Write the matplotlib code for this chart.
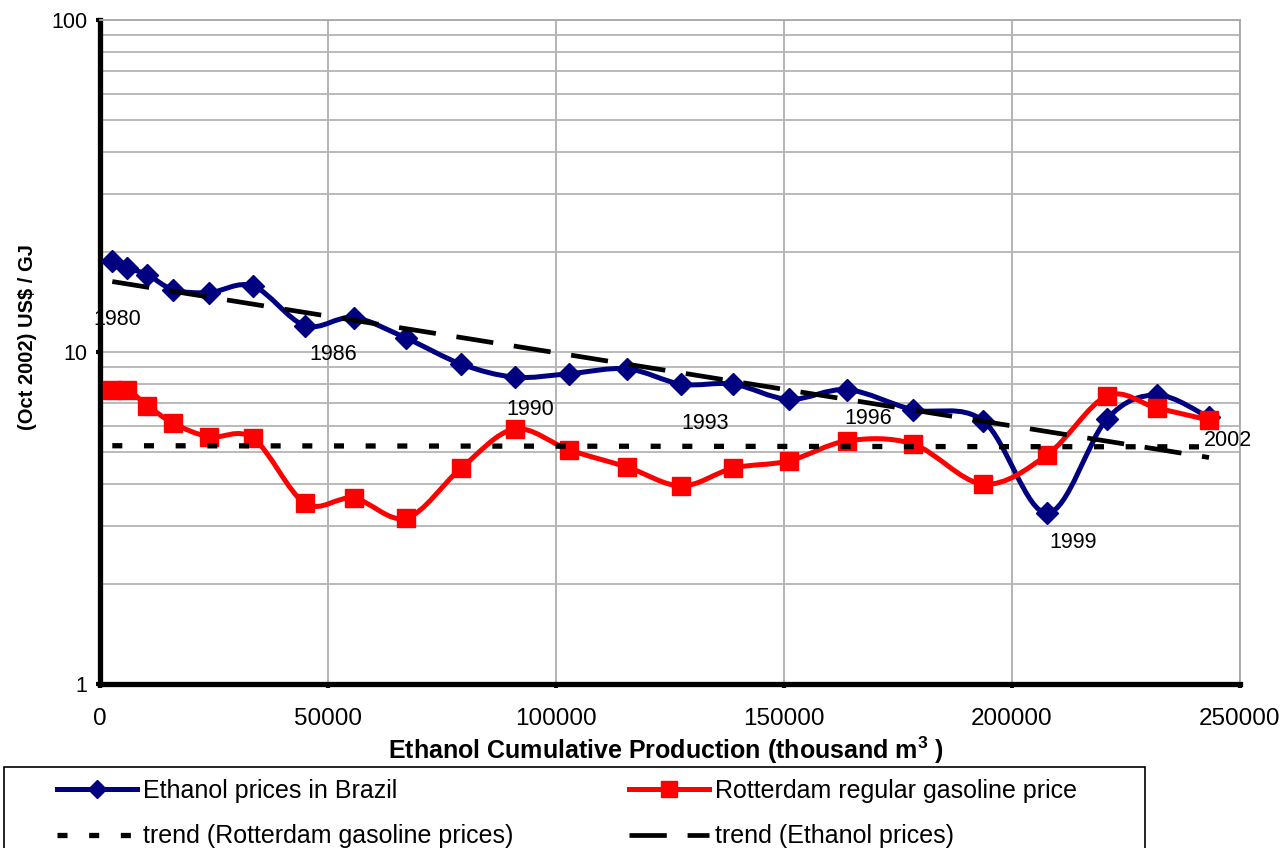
import numpy as np
import matplotlib.pyplot as plt
from matplotlib.path import Path
from matplotlib.patches import PathPatch, Rectangle
from matplotlib.lines import Line2D
from matplotlib.ticker import FixedLocator, NullFormatter

plt.rcParams['font.family'] = ['Liberation Sans', 'DejaVu Sans']
plt.rcParams['mathtext.default'] = 'regular'

# data (one point per year, 1980-2002)
cum_prod = [2700, 6000, 10400, 16100, 24000, 33600, 45000, 55600, 67200, 79200,
            90900, 102900, 115600, 127500, 138900, 151100, 163900, 178300,
            193700, 207700, 220800, 231800, 243200]
ethanol = [18.8, 17.9, 17.1, 15.4, 15.1, 15.8, 12.0, 12.7, 11.0, 9.2, 8.4, 8.6,
           8.9, 8.0, 8.0, 7.2, 7.7, 6.7, 6.2, 3.27, 6.28, 7.42, 6.35]
gasoline = [7.7, 7.7, 6.9, 6.1, 5.55, 5.5, 3.5, 3.63, 3.16, 4.47, 5.86, 5.07,
            4.5, 3.95, 4.47, 4.7, 5.4, 5.28, 4.0, 4.9, 7.37, 6.78, 6.24]

trend_x = [2700, 243200]
ethanol_trend = [16.3, 4.81]
gasoline_trend = [5.22, 5.18]

label_text = ['1980', '1986', '1990', '1993', '1996', '1999', '2002']
label_x = [3800, 51200, 94300, 132700, 168400, 213400, 247400]
label_y = [12.5, 9.8, 6.69, 6.07, 6.29, 2.66, 5.43]

xticks = [0, 50000, 100000, 150000, 200000, 250000]
yticks = [1, 10, 100]

NAVY = '#000080'
RED = '#FF0000'


def smooth_path(x, y):
    # excel-like smoothed line: bezier segments in (x, log y) space
    pts = np.column_stack([np.asarray(x, float), np.log10(y)])
    n = len(pts)
    verts = [pts[0]]
    codes = [Path.MOVETO]
    for i in range(n - 1):
        p0 = pts[max(i - 1, 0)]
        p1 = pts[i]
        p2 = pts[i + 1]
        p3 = pts[min(i + 2, n - 1)]
        verts += [p1 + (p2 - p0) / 6, p2 - (p3 - p1) / 6, p2]
        codes += [Path.CURVE4] * 3
    verts = np.array(verts)
    verts[:, 1] = 10 ** verts[:, 1]
    return Path(verts, codes)


fig = plt.figure(figsize=(12.83, 8.48), dpi=100)
ax = fig.add_axes([100 / 1283, 1 - 684 / 848, 1140 / 1283, 664 / 848])
ax.set_yscale('log')
ax.set_xlim(0, 250000)
ax.set_ylim(1, 100)

# grid
ax.set_xticks(xticks)
ax.set_xticklabels([str(t) for t in xticks])
ax.yaxis.set_major_locator(FixedLocator(yticks))
ax.set_yticklabels([str(t) for t in yticks])
minor = [m * d for d in (1, 10) for m in range(2, 10)]
ax.yaxis.set_minor_locator(FixedLocator(minor))
ax.yaxis.set_minor_formatter(NullFormatter())
ax.grid(True, which='both', axis='y', color='#b4b4b4', lw=1.3)
ax.grid(True, which='major', axis='x', color='#a8a8a8', lw=1.2)
ax.set_axisbelow(True)

for s in ('top', 'right'):
    ax.spines[s].set_color('#a8a8a8')
    ax.spines[s].set_linewidth(1.3)
for s in ('left', 'bottom'):
    ax.spines[s].set_color('black')
    ax.spines[s].set_linewidth(3.8)

ax.tick_params(which='major', length=3, width=3, color='black')
ax.tick_params(axis='x', labelsize=17.5, pad=14)
ax.tick_params(axis='y', labelsize=15.5, pad=6)
ax.tick_params(which='minor', length=0)

# smoothed series
ax.add_patch(PathPatch(smooth_path(cum_prod, ethanol), fill=False,
                       edgecolor=NAVY, lw=3.6, zorder=3, capstyle='round'))
ax.plot(cum_prod, ethanol, ls='none', marker='D', ms=11.5, color=NAVY,
        mec=NAVY, zorder=3.5)
ax.add_patch(PathPatch(smooth_path(cum_prod, gasoline), fill=False,
                       edgecolor=RED, lw=3.6, zorder=4, capstyle='round'))
ax.plot(cum_prod, gasoline, ls='none', marker='s', ms=13, color=RED,
        mec=RED, zorder=4.5)

# trend lines
ax.plot(trend_x, gasoline_trend, color='black', lw=3.8, dashes=(1.9, 4.1),
        zorder=5)
ax.plot(trend_x, ethanol_trend, color='black', lw=3.4, dashes=(7.9, 4.4),
        zorder=5)

for t, lx, ly in zip(label_text, label_x, label_y):
    ax.text(lx, ly, t, ha='center', va='center', fontsize=15.5)

fig.text(28 / 1283, 1 - 337 / 848, '(Oct 2002) US$ / GJ', rotation=90,
         ha='center', va='center', fontsize=14.5, fontweight='bold')
fig.text(666 / 1283, 1 - 750 / 848,
         'Ethanol Cumulative Production (thousand m$^{3}$ )',
         ha='center', va='center', fontsize=18, fontweight='bold')

# legend
handles = [
    Line2D([], [], color=NAVY, lw=3.6, marker='D', ms=9.5, mec=NAVY),
    Line2D([], [], color='black', lw=3.8, dashes=(1.9, 4.1)),
    Line2D([], [], color=RED, lw=3.6, marker='s', ms=11, mec=RED),
    Line2D([], [], color='black', lw=3.4, dashes=(7.9, 4.4)),
]
labels = ['Ethanol prices in Brazil', 'trend (Rotterdam gasoline prices)',
          'Rotterdam regular gasoline price', 'trend (Ethanol prices)']
fig.legend(handles, labels, ncol=2, loc='upper left',
           bbox_to_anchor=(57 / 1283, 1 - 779 / 848), frameon=False,
           fontsize=18, borderpad=0, borderaxespad=0, handlelength=3.2,
           handletextpad=0.25, columnspacing=4.62, labelspacing=0.85,
           numpoints=1)
fig.patches.append(Rectangle((4 / 1283, 1 - 870 / 848), 1141 / 1283,
                             103 / 848, transform=fig.transFigure,
                             fill=False, edgecolor='black', lw=1.2))

fig.savefig('out.png', dpi=100)
